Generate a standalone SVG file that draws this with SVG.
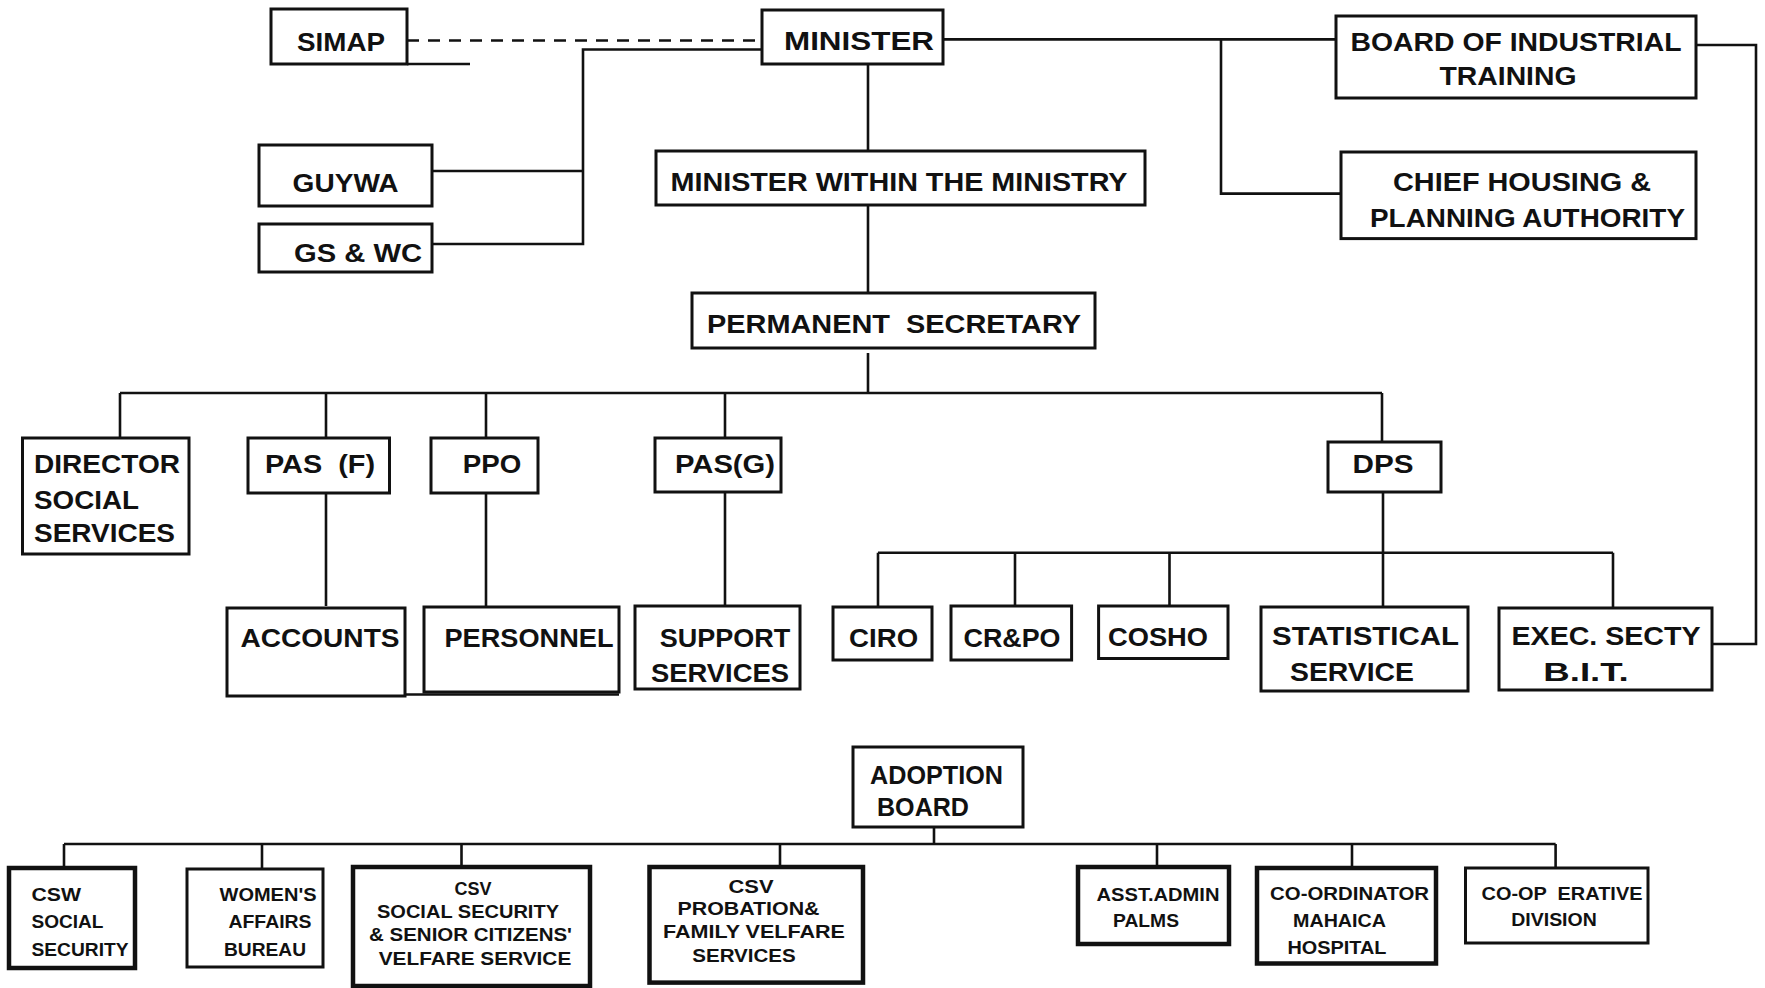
<svg xmlns="http://www.w3.org/2000/svg" width="1765" height="988" viewBox="0 0 1765 988">
  <style>
    .box { fill: #fff; stroke: #111; stroke-width: 3; }
    .heavy { stroke-width: 4.5; }
    .ln { fill: none; stroke: #111; stroke-width: 2.6; }
    .dash { stroke-dasharray: 12 9; }
    .t { font-family: "Liberation Sans", Arial, sans-serif; font-weight: bold; font-size: 26px; fill: #111; text-anchor: middle; }
    .s { font-size: 19px; }
    .l { text-anchor: start; }
  </style>
  <rect width="1765" height="988" fill="#fff"/>

  <!-- connectors -->
  <g id="connectors">
    <path class="ln dash" d="M407 40.5 H762"/>
    <path class="ln" d="M407 64 H470"/>
    <path class="ln" d="M762 49.5 H583 V244 H432 M432 171 H583"/>
    <path class="ln" d="M943 39.4 H1336 M1221 39.4 V193.6 H1341"/>
    <path class="ln" d="M1696 45 H1756 V644 H1712"/>
    <path class="ln" d="M868 64 V151 M868 205 V293 M868 353 V393"/>
    <path class="ln" d="M120 393 H1382 M120 393 V438 M326 393 V438 M486 393 V438 M725 393 V438 M1382 393 V442"/>
    <path class="ln" d="M326 493 V606 M486 493 V606 M725 492 V606"/>
    <path class="ln" d="M227 694.5 H619"/>
    <path class="ln" d="M1383 492 V552.7 M878 552.7 H1613 M878 552.7 V607 M1015 552.7 V606 M1169.5 552.7 V606 M1383 552.7 V607 M1613 552.7 V608"/>
    <path class="ln" d="M934 827 V844 M64 844 H1555.6 M64 844 V868 M262 844 V869 M461.5 844 V867 M780 844 V867 M1157 844 V867 M1352 844 V868 M1555.6 844 V868"/>
  </g>

  <g id="simap">
    <rect class="box" x="271" y="9" width="136" height="55"/>
    <text class="t" x="341" y="51" textLength="88" lengthAdjust="spacingAndGlyphs">SIMAP</text>
  </g>
  <g id="minister">
    <rect class="box" x="762" y="10" width="181" height="54"/>
    <text class="t" x="859" y="50" textLength="150" lengthAdjust="spacingAndGlyphs">MINISTER</text>
  </g>
  <g id="board-industrial-training">
    <rect class="box" x="1336" y="16" width="360" height="82"/>
    <text class="t" x="1516" y="51" textLength="331" lengthAdjust="spacingAndGlyphs">BOARD OF INDUSTRIAL</text>
    <text class="t" x="1508" y="84.5" textLength="137" lengthAdjust="spacingAndGlyphs">TRAINING</text>
  </g>
  <g id="chief-housing">
    <rect class="box" x="1341" y="152" width="355" height="86.6"/>
    <text class="t" x="1522" y="190.5" textLength="258" lengthAdjust="spacingAndGlyphs">CHIEF HOUSING &amp;</text>
    <text class="t" x="1527.5" y="226.5" textLength="315" lengthAdjust="spacingAndGlyphs">PLANNING AUTHORITY</text>
  </g>
  <g id="guywa">
    <rect class="box" x="259" y="145" width="173" height="61"/>
    <text class="t" x="345.6" y="191.5" textLength="106" lengthAdjust="spacingAndGlyphs">GUYWA</text>
  </g>
  <g id="gs-wc">
    <rect class="box" x="259" y="224" width="173" height="48"/>
    <text class="t" x="358" y="261.5" textLength="128" lengthAdjust="spacingAndGlyphs">GS &amp; WC</text>
  </g>
  <g id="minister-within">
    <rect class="box" x="656" y="151" width="489" height="54"/>
    <text class="t" x="899" y="190.5" textLength="457" lengthAdjust="spacingAndGlyphs">MINISTER WITHIN THE MINISTRY</text>
  </g>
  <g id="permanent-secretary">
    <rect class="box" x="692" y="293" width="403" height="55"/>
    <text class="t" x="894" y="332.5" textLength="374" lengthAdjust="spacingAndGlyphs" xml:space="preserve">PERMANENT  SECRETARY</text>
  </g>

  <g id="director-social">
    <rect class="box" x="22.5" y="438" width="166.5" height="116"/>
    <text class="t l" x="34" y="472.5" textLength="146" lengthAdjust="spacingAndGlyphs">DIRECTOR</text>
    <text class="t l" x="34" y="508.5" textLength="105" lengthAdjust="spacingAndGlyphs">SOCIAL</text>
    <text class="t l" x="34" y="541.5" textLength="141" lengthAdjust="spacingAndGlyphs">SERVICES</text>
  </g>
  <g id="pas-f">
    <rect class="box" x="248" y="438" width="141.5" height="55"/>
    <text class="t" x="320" y="472.5" textLength="110" lengthAdjust="spacingAndGlyphs" xml:space="preserve">PAS  (F)</text>
  </g>
  <g id="ppo">
    <rect class="box" x="431" y="438" width="107" height="55"/>
    <text class="t" x="492" y="472.5" textLength="58.5" lengthAdjust="spacingAndGlyphs">PPO</text>
  </g>
  <g id="pas-g">
    <rect class="box" x="655" y="438" width="126" height="54"/>
    <text class="t" x="725" y="472.5" textLength="100" lengthAdjust="spacingAndGlyphs">PAS(G)</text>
  </g>
  <g id="dps">
    <rect class="box" x="1328" y="442" width="113" height="50"/>
    <text class="t" x="1383" y="472.5" textLength="61" lengthAdjust="spacingAndGlyphs">DPS</text>
  </g>

  <g id="accounts">
    <rect class="box" x="227" y="608" width="178" height="88"/>
    <text class="t" x="320" y="646.5" textLength="159" lengthAdjust="spacingAndGlyphs">ACCOUNTS</text>
  </g>
  <g id="personnel">
    <rect class="box" x="424" y="607" width="195" height="85"/>
    <text class="t" x="529" y="646.5" textLength="169" lengthAdjust="spacingAndGlyphs">PERSONNEL</text>
  </g>
  <g id="support-services">
    <rect class="box" x="635" y="606" width="165" height="83"/>
    <text class="t" x="725" y="646.5" textLength="130.6" lengthAdjust="spacingAndGlyphs">SUPPORT</text>
    <text class="t" x="720" y="681.5" textLength="138" lengthAdjust="spacingAndGlyphs">SERVICES</text>
  </g>
  <g id="ciro">
    <rect class="box" x="833" y="607" width="99" height="53"/>
    <text class="t" x="883.6" y="646.5" textLength="69" lengthAdjust="spacingAndGlyphs">CIRO</text>
  </g>
  <g id="cr-po">
    <rect class="box" x="951" y="606" width="120.6" height="54"/>
    <text class="t" x="1012" y="646.5" textLength="97" lengthAdjust="spacingAndGlyphs">CR&amp;PO</text>
  </g>
  <g id="cosho">
    <rect class="box" x="1098.6" y="606" width="129.4" height="52.5"/>
    <text class="t" x="1158" y="645.5" textLength="100" lengthAdjust="spacingAndGlyphs">COSHO</text>
  </g>
  <g id="statistical-service">
    <rect class="box" x="1261" y="607" width="207" height="84"/>
    <text class="t" x="1365.5" y="644.5" textLength="187" lengthAdjust="spacingAndGlyphs">STATISTICAL</text>
    <text class="t" x="1352" y="680.5" textLength="124" lengthAdjust="spacingAndGlyphs">SERVICE</text>
  </g>
  <g id="exec-secty">
    <rect class="box" x="1499" y="608" width="213" height="82"/>
    <text class="t" x="1606" y="644.5" textLength="189" lengthAdjust="spacingAndGlyphs">EXEC. SECTY</text>
    <text class="t" x="1586" y="680.5" textLength="85.5" lengthAdjust="spacingAndGlyphs">B.I.T.</text>
  </g>

  <g id="adoption-board">
    <rect class="box" x="853" y="747" width="170" height="80"/>
    <text class="t" x="936.5" y="784" textLength="133" lengthAdjust="spacingAndGlyphs">ADOPTION</text>
    <text class="t" x="923" y="815.5" textLength="92" lengthAdjust="spacingAndGlyphs">BOARD</text>
  </g>

  <g id="csw-social-security">
    <rect class="box heavy" x="9" y="868" width="126" height="100"/>
    <text class="t s l" x="31.5" y="901" textLength="49.5" lengthAdjust="spacingAndGlyphs">CSW</text>
    <text class="t s l" x="31.5" y="928" textLength="72" lengthAdjust="spacingAndGlyphs">SOCIAL</text>
    <text class="t s l" x="31.5" y="956" textLength="97" lengthAdjust="spacingAndGlyphs">SECURITY</text>
  </g>
  <g id="womens-affairs">
    <rect class="box" x="187" y="869" width="136" height="98"/>
    <text class="t s l" x="219.5" y="901" textLength="97" lengthAdjust="spacingAndGlyphs">WOMEN'S</text>
    <text class="t s l" x="228.5" y="928" textLength="83" lengthAdjust="spacingAndGlyphs">AFFAIRS</text>
    <text class="t s l" x="224" y="956" textLength="82" lengthAdjust="spacingAndGlyphs">BUREAU</text>
  </g>
  <g id="csv-social-security">
    <rect class="box heavy" x="353" y="867" width="237" height="119"/>
    <text class="t s" x="473" y="895" textLength="37" lengthAdjust="spacingAndGlyphs">CSV</text>
    <text class="t s" x="468" y="917.6" textLength="182" lengthAdjust="spacingAndGlyphs">SOCIAL SECURITY</text>
    <text class="t s" x="470.5" y="941" textLength="203" lengthAdjust="spacingAndGlyphs">&amp; SENIOR CITIZENS'</text>
    <text class="t s" x="475" y="965" textLength="192.5" lengthAdjust="spacingAndGlyphs">VELFARE SERVICE</text>
  </g>
  <g id="csv-probation">
    <rect class="box heavy" x="649.5" y="867" width="213.5" height="115.6"/>
    <text class="t s" x="751" y="893" textLength="45" lengthAdjust="spacingAndGlyphs">CSV</text>
    <text class="t s" x="748.5" y="915" textLength="142" lengthAdjust="spacingAndGlyphs">PROBATION&amp;</text>
    <text class="t s" x="754" y="938" textLength="182" lengthAdjust="spacingAndGlyphs">FAMILY VELFARE</text>
    <text class="t s" x="744" y="961.5" textLength="103.5" lengthAdjust="spacingAndGlyphs">SERVICES</text>
  </g>
  <g id="asst-admin">
    <rect class="box heavy" x="1078" y="867" width="151" height="77"/>
    <text class="t s" x="1158" y="901" textLength="123" lengthAdjust="spacingAndGlyphs">ASST.ADMIN</text>
    <text class="t s" x="1146" y="927" textLength="66" lengthAdjust="spacingAndGlyphs">PALMS</text>
  </g>
  <g id="coordinator-mahaica">
    <rect class="box heavy" x="1257" y="868" width="179" height="95.5"/>
    <text class="t s" x="1349.6" y="899.6" textLength="159" lengthAdjust="spacingAndGlyphs">CO-ORDINATOR</text>
    <text class="t s" x="1339.5" y="927" textLength="93" lengthAdjust="spacingAndGlyphs">MAHAICA</text>
    <text class="t s" x="1337" y="953.6" textLength="99" lengthAdjust="spacingAndGlyphs">HOSPITAL</text>
  </g>
  <g id="cooperative-division">
    <rect class="box" x="1465.5" y="868" width="182.5" height="75"/>
    <text class="t s" x="1562" y="899.6" textLength="161" lengthAdjust="spacingAndGlyphs" xml:space="preserve">CO-OP  ERATIVE</text>
    <text class="t s" x="1554" y="925.5" textLength="85.5" lengthAdjust="spacingAndGlyphs">DIVISION</text>
  </g>
</svg>
